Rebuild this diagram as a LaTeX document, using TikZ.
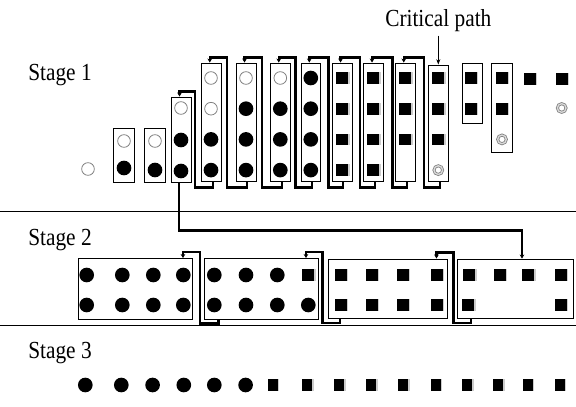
\documentclass[tikz,border=0pt]{standalone}
\usepackage{fontspec}
\setmainfont{Liberation Serif}
\usetikzlibrary{arrows.meta,calc,fit,shadows}

\tikzset{
  colbox/.style={draw, line width=0.7pt, inner sep=0pt},
  blockbox/.style={draw, line width=0.7pt, inner sep=0pt},
  full/.style={circle, fill=black, inner sep=0pt, minimum size=11pt},
  hollow/.style={circle, draw=gray, line width=0.6pt, inner sep=0pt, minimum size=9.5pt},
  ring/.style={circle, draw=gray, double=gray!30, double distance=1pt, line width=0.6pt, inner sep=0pt, minimum size=6.5pt},
  sq/.style={fill=black, inner sep=0pt, minimum size=8.8pt, drop shadow={shadow xshift=1.2pt, shadow yshift=0pt, opacity=0.4, fill=gray}},
  tallsq/.style={sq, minimum width=7.5pt, minimum height=9pt},
  fb/.style={line width=1.6pt, -{Stealth[length=3pt,width=3.5pt]}},
  stagelabel/.style={anchor=base west, inner sep=0pt, font=\fontsize{16}{19}\selectfont},
}

\begin{document}
\begin{tikzpicture}[x=0.75pt,y=-0.75pt]
\useasboundingbox (0,0) rectangle (576,407);

% stage borders
\draw[line width=0.7pt] (0,211) -- (576,211);
\draw[line width=0.7pt] (0,325) -- (576,325);

\node[stagelabel] (st1) at (28,80) {\scalebox{1}[1.15]{Stage 1}};
\node[stagelabel] (st2) at (28,245) {\scalebox{1}[1.15]{Stage 2}};
\node[stagelabel] (st3) at (28,358) {\scalebox{1}[1.15]{Stage 3}};
\node[stagelabel, anchor=base] (cp) at (438.3,26.7) {\scalebox{1}[1.15]{Critical path}};

% stage 1 columns
\foreach \n/\xa/\ya/\xb/\yb in {1/113.5/128/134.5/182, 2/144.5/128/165.5/182, 3/171/97/191/182,
    4/201/63/221.5/181, 5/236/63/256/181, 6/270.5/63/290/181, 7/301/63/320.5/181,
    8/332/63/352/181, 9/363.5/63/383.5/181, 10/395.5/63/415/181, 11/428.5/65/448.5/181,
    12/462/63/482/123, 13/491.5/63/512/152}
  \node[colbox, fit={(\xa,\ya) (\xb,\yb)}] (c\n) {};

\node[hollow] (h0) at (88,169) {};
\node[hollow] (h1) at (124,141) {};
\node[full] (f1) at (124,168) {};
\node[hollow] (h2) at (155,141) {};
\node[full] (f2) at (155,170) {};
\node[hollow] (h3) at (181,108) {};
\node[full] (f3a) at (181,140) {};
\node[full] (f3b) at (181,171) {};
\foreach \x/\pat [count=\c from 4] in {211/{hollow,hollow,full,full}, 246/{hollow,full,full,full},
    280.3/{hollow,full,full,full}, 310.8/{full,full,full,full}, 342.3/{sq,sq,sq,sq},
    373.3/{sq,sq,sq,sq}, 405.3/{sq,sq,sq}, 438.3/{sq,sq,sq,ring}, 471/{sq,sq}, 502/{sq,sq,ring}}
  \foreach \s [count=\k] in \pat
    \node[\s] (d\c-\k) at (\x,{78+(\k-1)*30.7}) {};
\node[sq] (x1) at (530,79) {};
\node[sq] (x2) at (561.7,79) {};
\node[ring] (x3) at (561.7,108) {};

% stage 1 feedback
\foreach \i/\j/\d in {3/4/3.5, 4/5/5, 5/6/5.5, 6/7/5, 7/8/7.5, 8/9/7.5, 9/10/8.5, 10/11/8.5}
  \draw[fb] ([xshift=1pt]c\j.south) -- ++(0,6) -| ([shift={(\d,-5)}]c\i.north east) -| ([xshift=-1.1pt]c\i.north);

\draw[-{Stealth[length=4pt,width=3pt]}, line width=0.6pt, shorten <=2.5pt] (cp.south) -- (cp.south |- c11.north);

% stage 2 blocks
\node[blockbox, fit={(78.5,258.5) (192.5,319)}] (b1) {};
\node[blockbox, fit={(204,258.5) (318.5,319)}] (b2) {};
\node[blockbox, fit={(328.5,259) (447.5,318.5)}] (b3) {};
\node[blockbox, fit={(457.5,259) (573.5,318.5)}] (b4) {};

\foreach \x [count=\k] in {86.7,122.3,153.3,183.3} {
  \node[full] (p1-\k) at (\x,275) {};
  \node[full] (q1-\k) at (\x,305) {};
}
\foreach \x [count=\k] in {214.3,246,277.3} {
  \node[full] (p2-\k) at (\x,275) {};
  \node[full] (q2-\k) at (\x,305) {};
}
\node[sq] (p2-4) at (308.3,275) {};
\node[full] (q2-4) at (308.3,305) {};
\foreach \x [count=\k] in {340.7,371.7,402.7,436.7} {
  \node[sq] (p3-\k) at (\x,275) {};
  \node[sq] (q3-\k) at (\x,305) {};
}
\foreach \x [count=\k] in {469.3,500,528.3,560.7}
  \node[sq] (p4-\k) at (\x,275) {};
\node[sq] (q4-1) at (468.3,305) {};
\node[sq] (q4-2) at (560.7,305) {};

% stage 2 feedback
\foreach \i/\j/\s/\d/\t in {1/2/15/7/10, 2/3/12/3.5/13, 3/4/14/5.5/11.5}
  \draw[fb] ([shift={(\s,0)}]b\j.south west) -- ++(0,4) -| ([shift={(\d,-6)}]b\i.north east) -| ([shift={(-\t,0)}]b\i.north east);

% critical path
\draw[fb] ([xshift=-1.2pt]c3.south) -- ++(0,48) -| ([shift={(6.5,0)}]b4.north);

% stage 3
\foreach \x [count=\k] in {85.3,121.3,152.6,183.8,214.3,245.6}
  \node[full] (e\k) at (\x,385) {};
\foreach \x [count=\k from 7] in {272.8,307,339,371.3,403.3,435.7,467,498,527.6,559.6}
  \node[tallsq] (e\k) at (\x,385) {};
\end{tikzpicture}
\end{document}
